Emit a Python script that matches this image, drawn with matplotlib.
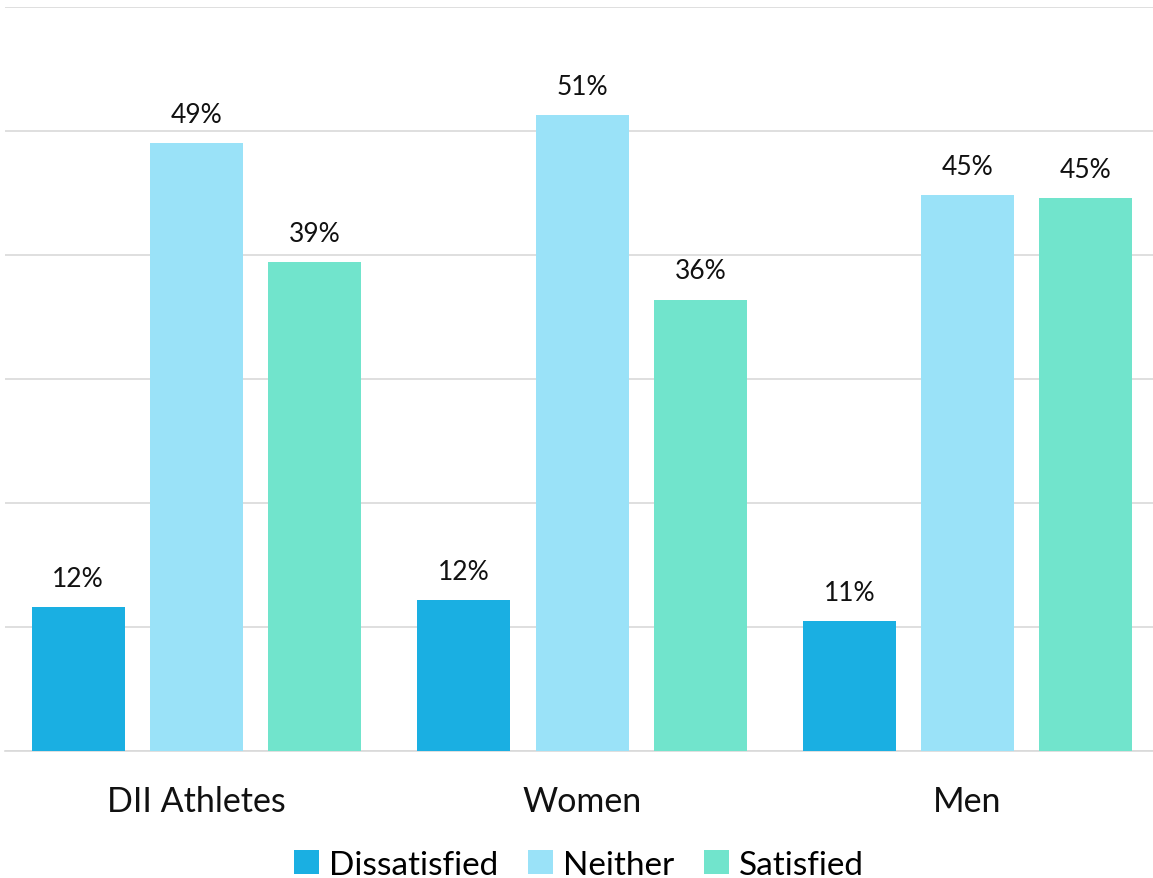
import numpy as np
import matplotlib.pyplot as plt

groups = ['DII Athletes', 'Women', 'Men']
series = ['Dissatisfied', 'Neither', 'Satisfied']
dissatisfied = [11.6, 12.2, 10.5]
neither = [49.0, 51.3, 44.8]
satisfied = [39.4, 36.4, 44.6]
labels = [['12%', '12%', '11%'], ['49%', '51%', '45%'], ['39%', '36%', '45%']]
colors = ['#1AAFE2', '#9AE2F8', '#71E4CC']

plt.rcParams['font.family'] = ['Lato', 'DejaVu Sans']

fig = plt.figure(figsize=(11.53, 8.79), dpi=100)
ax = fig.add_axes([0.0043, 0.1445, 0.9957, 0.8465])

x = np.arange(len(groups))
width = 0.241
step = 0.307
for i, (name, vals) in enumerate(zip(series, [dissatisfied, neither, satisfied])):
    pos = x + (i - 1) * step
    bars = ax.bar(pos, vals, width, color=colors[i], label=name, zorder=3)
    for b, lab in zip(bars, labels[i]):
        ax.text(b.get_x() + b.get_width() / 2, b.get_height() + 1.3, lab,
                ha='center', va='bottom', fontsize=19, color='#111111')

ax.set_xlim(-0.497, 2.481)
ax.set_ylim(0, 60)
ax.set_yticks(np.arange(0, 61, 10))
ax.yaxis.grid(True, color='#D9D9D9', linewidth=1.2, zorder=0)
ax.tick_params(axis='y', left=False, labelleft=False)
ax.tick_params(axis='x', bottom=False, labelsize=24.5, pad=21, colors='#111111')
ax.set_xticks(x)
ax.set_xticklabels(groups)
for s in ['top', 'right', 'left']:
    ax.spines[s].set_visible(False)
ax.spines['bottom'].set_color('#D9D9D9')
ax.spines['bottom'].set_linewidth(1.2)

ax.legend(loc='lower center', bbox_to_anchor=(0.5, -0.2), ncol=3, frameon=False,
          fontsize=24, handlelength=0.75, handleheight=0.75, handletextpad=0.3,
          columnspacing=0.9, borderaxespad=0.2)

fig.savefig('out.png')
